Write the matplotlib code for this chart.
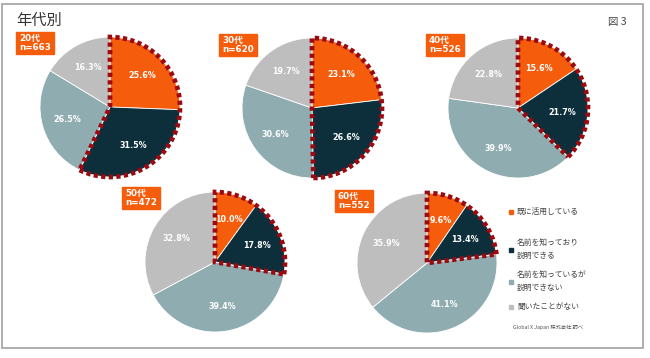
import numpy as np
import matplotlib
matplotlib.use("Agg")
import matplotlib.pyplot as plt
from matplotlib.patches import Rectangle, Wedge

plt.rcParams['font.family'] = ['DejaVu Sans', 'Noto Sans CJK JP']

# --- datos ---------------------------------------------------------------
categorias = ['既に活用している', '名前を知っており\n説明できる',
              '名前を知っているが\n説明できない', '聞いたことがない']
grupos = ['20代', '30代', '40代', '50代', '60代']
n_muestra = [663, 620, 526, 472, 552]
v20 = [25.6, 31.5, 26.5, 16.3]
v30 = [23.1, 26.6, 30.6, 19.7]
v40 = [15.6, 21.7, 39.9, 22.8]
v50 = [10.0, 17.8, 39.4, 32.8]
v60 = [9.6, 13.4, 41.1, 35.9]
valores = [v20, v30, v40, v50, v60]

colores = ['#F55D0C', '#0C2F3B', '#8FADB1', '#BEBEBE']
rojo = '#9A0A10'

W, H = 650, 358
fig = plt.figure(figsize=(W / 100, H / 100), dpi=100)

# eje de fondo en pixeles
ax0 = fig.add_axes([0, 0, 1, 1])
ax0.set_xlim(0, W)
ax0.set_ylim(H, 0)
ax0.axis('off')
ax0.add_patch(Rectangle((1.5, 4), 641.5, 344, fill=False, ec='#A8A8A8', lw=1.3))

ax0.text(16, 20, '年代別', fontsize=11, color='#333333', va='center', ha='left',
         family=['Noto Sans CJK JP'])
ax0.text(627, 22, '図 3', fontsize=7.5, color='#444444', va='center', ha='right',
         family=['Noto Sans CJK JP'])

# centros de las tortas y cajas (pixeles)
centros = [(110, 107), (312, 108), (518, 108), (215, 262), (427, 263)]
cajas = [(16, 32), (219, 34), (426, 34), (122, 187), (335, 190)]
r = 70

for i, vals in enumerate(valores):
    cx, cy = centros[i]
    ax = fig.add_axes([(cx - r) / W, (H - cy - r) / H, 2 * r / W, 2 * r / H])
    wedges, _ = ax.pie(vals, colors=colores, startangle=90, counterclock=False,
                       radius=1, wedgeprops=dict(edgecolor='white', linewidth=0.6))
    for w, v in zip(wedges, vals):
        ang = np.deg2rad((w.theta1 + w.theta2) / 2)
        ax.text(0.64 * np.cos(ang), 0.64 * np.sin(ang), f'{v:.1f}%', color='white',
                fontsize=5.8, fontweight='bold', ha='center', va='center')
    # borde punteado sobre las dos primeras categorias
    t1 = wedges[1].theta1
    t2 = wedges[0].theta2
    borde = Wedge((0, 0), 1, t1, t2, fill=False, ec=rojo, lw=3.4,
                  linestyle=(0, (0.9, 0.7)), capstyle='butt', joinstyle='miter',
                  clip_on=False, zorder=5)
    ax.add_patch(borde)
    ax.set_xlim(-1, 1)
    ax.set_ylim(-1, 1)
    ax.set_aspect('equal')
    ax.axis('off')

    bx, by = cajas[i]
    ax0.add_patch(Rectangle((bx, by), 38, 21.5, color='#F55D0C', zorder=3))
    ax0.text(bx + 3, by + 11, f'{grupos[i]}\nn={n_muestra[i]}', color='white',
             fontsize=6.3, fontweight='bold', ha='left', va='center',
             linespacing=1.05, zorder=4)

# leyenda
ley_y = [212, 250, 282, 307]
for c, txt, y in zip(colores, categorias, ley_y):
    ax0.add_patch(Rectangle((509, y - 2), 3.5, 3.5, color=c))
    ax0.text(517, y, txt, fontsize=5.6, color='#404040', va='center', ha='left',
             linespacing=1.7, family=['Noto Sans CJK JP'])

ax0.text(513, 327, 'Global X Japan 株式会社 調べ', fontsize=3.8, color='#555555',
         va='center', ha='left', family=['Noto Sans CJK JP'])

fig.savefig('out.png', dpi=100)
